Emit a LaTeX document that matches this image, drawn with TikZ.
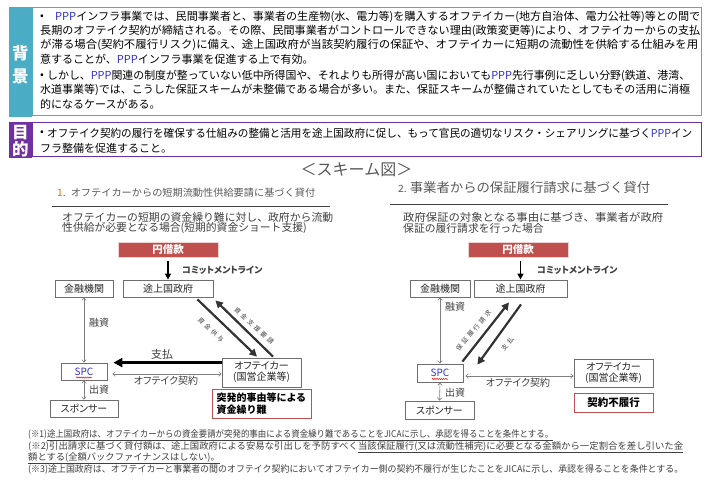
\documentclass[tikz,border=0pt]{standalone}
\usepackage{fontspec}
\usepackage{graphicx}
\setmainfont{Noto Sans CJK JP}
\newfontfamily\pf{Noto Sans CJK JP}[RawFeature=+palt]
\usetikzlibrary{arrows.meta,calc,decorations.pathmorphing}
\definecolor{teal1}{RGB}{75,172,198}
\definecolor{purp}{RGB}{112,48,160}
\definecolor{redbox}{RGB}{192,80,77}
\definecolor{txtgray}{RGB}{64,64,64}
\definecolor{ltgray}{RGB}{89,89,89}
\definecolor{boxgray}{RGB}{110,110,110}
\definecolor{pppblue}{RGB}{51,51,204}
\definecolor{orange1}{RGB}{228,108,10}
\newcommand\PPP{{\color{pppblue}PPP}}
\newcommand\fitw[2]{\resizebox{#1pt}{\height}{#2}}
\newcommand\ls{\hspace{2.6pt}}
\tikzset{
  txt/.style={anchor=west, inner sep=0pt, font=\fontsize{11}{13}\selectfont},
  fn/.style={anchor=west, inner sep=0pt, text=txtgray, font=\fontsize{9.3}{11}\selectfont},
  dbox/.style={draw=boxgray, fill=white, line width=0.8pt, inner sep=0pt, text=black!85,
    font=\pf\fontsize{10}{11}\selectfont, align=center},
  yenbox/.style={fill=redbox, draw=redbox!25, line width=0.6pt, inner sep=0pt, text=white,
    font=\fontsize{10.5}{12}\bfseries, minimum width=100pt, minimum height=15pt},
  notebox/.style={draw=redbox, fill=white, line width=1pt, inner sep=0pt, text=black,
    font=\fontsize{10}{11.5}\bfseries},
  thinarr/.style={draw=gray, line width=0.6pt,
    {Straight Barb[length=2.5pt,width=4.5pt]}-{Straight Barb[length=2.5pt,width=4.5pt]}},
  bigarr/.style={draw=black, line width=2.8pt, -{Triangle[length=9pt,width=9pt]}},
  diagarr/.style={draw=black!80, line width=2.2pt, -{Triangle[length=7.5pt,width=7.5pt]}},
  cmarr/.style={draw=black, line width=1.8pt, -{Triangle[length=6pt,width=6pt]}},
  lbl/.style={inner sep=0pt, text=txtgray, font=\pf\fontsize{10}{11}\selectfont},
  tiny/.style={inner sep=0pt, text=txtgray, font=\fontsize{6.3}{7}\selectfont},
}
\begin{document}
\begin{tikzpicture}[x=1pt,y=-1pt]
\fill[white] (0,0) rectangle (710,481);
\useasboundingbox (0,0) rectangle (710,481);

% ===== background =====
\fill[teal1] (9,7) rectangle (32,117);
\draw[teal1, line width=1pt] (32,7.5) rectangle (701,116);
\node[text=white, font=\fontsize{16.5}{17}\bfseries] (bgA) at (20.5,53.5) {背};
\node[text=white, font=\fontsize{16.5}{17}\bfseries] (bgB) at (20.5,76.5) {景};

\node[txt] (b1) at (40,17) {•};
\node[txt] (l1) at (55,17) {\fitw{645}{\PPP インフラ事業では、民間事業者と、事業者の生産物(水、電力等)を購入するオフテイカー(地方自治体、電力公社等)等との間で}};
\node[txt] (l2) at (40,31) {\fitw{660}{長期のオフテイク契約が締結される。その際、民間事業者がコントロールできない理由(政策変更等)により、オフテイカーからの支払}};
\node[txt] (l3) at (40,45) {\fitw{658}{が滞る場合(契約不履行リスク)に備え、途上国政府が当該契約履行の保証や、オフテイカーに短期の流動性を供給する仕組みを用}};
\node[txt] (l4) at (40,59) {意することが、\PPP インフラ事業を促進する上で有効。};
\node[txt] (b2) at (40,76) {•};
\node[txt] (l5) at (47,76) {\fitw{643}{しかし、\PPP 関連の制度が整っていない低中所得国や、それよりも所得が高い国においても\PPP 先行事例に乏しい分野(鉄道、港湾、}};
\node[txt] (l6) at (40,90) {\fitw{650}{水道事業等)では、こうした保証スキームが未整備である場合が多い。また、保証スキームが整備されていたとしてもその活用に消極}};
\node[txt] (l7) at (40,104) {的になるケースがある。};

% ===== purpose =====
\fill[purp] (9,122) rectangle (32,158);
\draw[purp, line width=1pt] (32,122.5) rectangle (701,157);
\node[text=white, font=\fontsize{16.5}{17}\bfseries] (pA) at (20.5,132.5) {目};
\node[text=white, font=\fontsize{16.5}{17}\bfseries] (pB) at (20.5,149.5) {的};
\node[txt] (b3) at (40,133) {•};
\node[txt] (m1) at (47,133) {\fitw{645}{オフテイク契約の履行を確保する仕組みの整備と活用を途上国政府に促し、もって官民の適切なリスク・シェアリングに基づく\PPP イン}};
\node[txt] (m2) at (40,148) {フラ整備を促進すること。};

% ===== scheme title =====
\node[inner sep=0pt, text=ltgray, font=\fontsize{16}{17}\selectfont] (stitle) at (356.5,170) {＜スキーム図＞};

% ===== left diagram =====
\node[anchor=west, inner sep=0pt, text=ltgray, font=\fontsize{10}{11}\selectfont] (lt) at (57,193)
  {\fitw{258}{{\color{orange1}1}.\hspace{5pt}オフテイカーからの短期流動性供給要請に基づく貸付}};
\draw[txtgray, line width=0.8pt] (52,206) coordinate (lla) -- (330,206) coordinate (llb);
\node[anchor=west, inner sep=0pt, text=txtgray, font=\fontsize{10.8}{12}\selectfont] (ld1) at (62,217)
  {\fitw{271}{オフテイカーの短期の資金繰り難に対し、政府から流動}};
\node[anchor=west, inner sep=0pt, text=txtgray, font=\fontsize{10.8}{12}\selectfont] (ld2) at (62,228)
  {性供給が必要となる場合(短期的資金ショート支援)};

\node[yenbox] (yen1) at (168,249.5) {円借款};
\node[dbox, minimum width=58pt, minimum height=17pt] (kin1) at (84,288.5) {金融機関};
\node[dbox, minimum width=90pt, minimum height=17pt] (gov1) at (168,288.5) {途上国政府};
\node[dbox, minimum width=46pt, minimum height=17pt, text=pppblue] (spc1) at (84,371.5) {SPC};
\node[dbox, minimum width=68pt, minimum height=17pt] (spo1) at (84,408.5) {スポンサー};
\node[dbox, minimum width=79pt, minimum height=29pt] (off1) at (261.5,372.5) {オフテイカー\\(国営企業等)};
\node[notebox, minimum width=99pt, minimum height=29pt, align=left, text width=90pt] (nt1) at (261.5,403.5)
  {突発的事由等による\\資金繰り難};

\draw[cmarr] ([yshift=-4pt]yen1.south) -- (gov1.north);
\node[anchor=west, inner sep=0pt, text=txtgray, font=\pf\fontsize{9}{10}\bfseries] (cm1) at (182,270) {コミットメントライン};

\draw[thinarr] (kin1.south) -- (spc1.north);
\node[lbl, anchor=west] (ys1) at (89,323) {融資};
\draw[thinarr] (spc1.south) -- (spo1.north);
\node[lbl, anchor=west] (sh1) at (89,390) {出資};

\draw[bigarr] (off1.west |- spc1.north) -- ([xshift=6pt]spc1.north east);
\node[lbl, font=\pf\fontsize{11}{12}\selectfont] (pay1) at (162,354) {支払};
\draw[thinarr] ([xshift=5pt,yshift=-2.5pt]spc1.east) -- ([yshift=-2.5pt]off1.west |- spc1.east);
\node[lbl] (oc1) at (166,381) {オフテイク契約};

\draw[diagarr] ([xshift=-16pt,yshift=-2pt]gov1.south east) -- ([xshift=-4.5pt,yshift=1pt]off1.north);
\draw[diagarr] ([xshift=11.5pt,yshift=1pt]off1.north) -- ([xshift=2pt,yshift=-3pt]gov1.south east);
\node[tiny, rotate=-44] (lb1) at (211,330) {資\ls 金\ls 供\ls 与};
\node[tiny, rotate=-42] (lb2) at (254,326) {資\ls 金\ls 支\ls 援\ls 要\ls 請};

\draw[red, line width=0.5pt, decorate, decoration={snake, amplitude=0.6pt, segment length=2.2pt}]
  ([xshift=-8pt,yshift=-6pt]spc1.center) -- ([xshift=8pt,yshift=-6pt]spc1.center);

% ===== right diagram =====
\node[anchor=west, inner sep=0pt, text=ltgray, font=\fontsize{13}{14}\selectfont] (rt) at (398,188)
  {\fitw{252}{{\fontsize{10}{11}\selectfont 2.}\hspace{3pt}事業者からの保証履行請求に基づく貸付}};
\draw[txtgray, line width=0.8pt] (390,204) coordinate (rla) -- (668,204) coordinate (rlb);
\node[anchor=west, inner sep=0pt, text=txtgray, font=\fontsize{10.8}{12}\selectfont] (rd1) at (403,217)
  {\fitw{260}{政府保証の対象となる事由に基づき、事業者が政府}};
\node[anchor=west, inner sep=0pt, text=txtgray, font=\fontsize{10.8}{12}\selectfont] (rd2) at (403,228)
  {保証の履行請求を行った場合};

\node[yenbox] (yen2) at (518,249.5) {円借款};
\node[dbox, minimum width=60pt, minimum height=17pt] (kin2) at (440,288.5) {金融機関};
\node[dbox, minimum width=93pt, minimum height=17pt] (gov2) at (520.5,288.5) {途上国政府};
\node[dbox, minimum width=46pt, minimum height=18pt, text=pppblue] (spc2) at (440,373) {SPC};
\node[dbox, minimum width=69pt, minimum height=18pt] (spo2) at (439.5,410) {スポンサー};
\node[dbox, minimum width=79pt, minimum height=28pt] (off2) at (613.5,373) {オフテイカー\\(国営企業等)};
\node[notebox, minimum width=79pt, minimum height=19pt, font=\fontsize{10.5}{12}\bfseries] (nt2) at (613.5,402.5) {契約不履行};

\draw[cmarr] ([yshift=-4pt]yen2.south -| gov2.north) -- (gov2.north);
\node[anchor=west, inner sep=0pt, text=txtgray, font=\pf\fontsize{9}{10}\bfseries] (cm2) at (537,270) {コミットメントライン};

\draw[thinarr] (kin2.south) -- (spc2.north);
\node[lbl, anchor=west] (ys2) at (445,307) {融資};
\draw[thinarr] (spc2.south) -- (spo2.north);
\node[lbl, anchor=west] (sh2) at (445,393) {出資};

\draw[thinarr] ([xshift=2pt,yshift=-3pt]spc2.east) -- ([yshift=-3pt]off2.west |- spc2.east);
\node[lbl] (oc2) at (518,383) {オフテイク契約};

\draw[diagarr] ([xshift=-1pt,yshift=2pt]spc2.north east) -- ([xshift=-11.5pt,yshift=-5pt]gov2.south);
\draw[diagarr] ([xshift=0.5pt,yshift=-7pt]gov2.south) -- ([xshift=14pt,yshift=-1pt]spc2.north east);
\node[tiny, rotate=50] (lb3) at (473.5,330.5) {保\ls 証\ls 履\ls 行\ls 請\ls 求};
\node[tiny, rotate=50] (lb4) at (507.5,344) {支\ls 払};

\draw[red, line width=0.5pt, decorate, decoration={snake, amplitude=0.6pt, segment length=2.2pt}]
  ([xshift=-8pt,yshift=-6pt]spc2.center) -- ([xshift=8pt,yshift=-6pt]spc2.center);

% ===== footnotes =====
\node[fn] (f1) at (28,435) {\fitw{525}{(※1)\underline{途上国政府は、オフテイカーからの資金要請が突発的事由による資金繰り難であることをJICAに示し、承認を得ることを条件とする。}}};
\node[fn] (f2) at (28,447) {\fitw{655}{(※2)引出請求に基づく貸付額は、途上国政府による安易な引出しを予防すべく\underline{当該保証履行(又は流動性補完)に必要となる金額から一定割合を差し引いた金}}};
\node[fn] (f3) at (28,458) {\underline{額とする(全額バックファイナンスはしない)。}};
\node[fn] (f4) at (28,469) {\fitw{655}{(※3)途上国政府は、オフテイカーと事業者の間のオフテイク契約においてオフテイカー側の契約不履行が生じたことをJICAに示し、承認を得ることを条件とする。}};
\end{tikzpicture}
\end{document}
